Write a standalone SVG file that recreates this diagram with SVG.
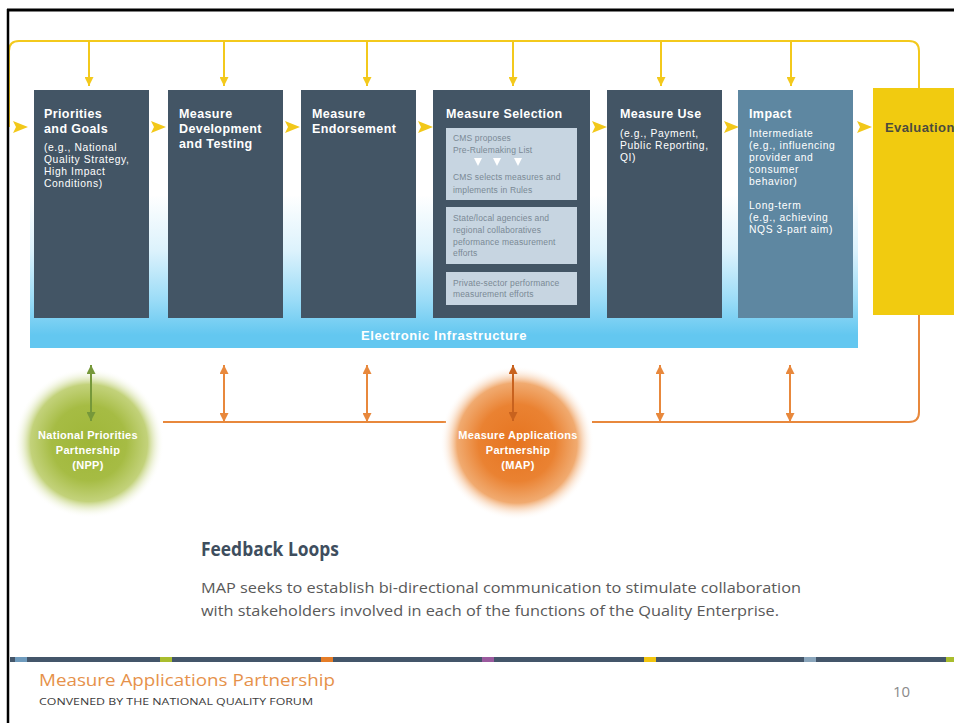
<svg xmlns="http://www.w3.org/2000/svg" width="954" height="723" viewBox="0 0 954 723">
<style>
.box{fill:#435565}
.impact{fill:#5e87a1}
.inner{fill:#c7d5e1}
.ttl{font-family:"Liberation Sans",Arial,sans-serif;font-weight:700;font-size:12.5px;letter-spacing:0.4px;fill:#ffffff}
.sub{font-family:"Liberation Sans",Arial,sans-serif;font-weight:400;font-size:10.3px;letter-spacing:0.6px;fill:#ffffff}
.itx{font-family:"Liberation Sans",Arial,sans-serif;font-size:8.5px;letter-spacing:0.15px;fill:#7a8995}
.chev{fill:#f2c81a}
.yl{stroke:#f3c91c;stroke-width:2;fill:none}
.ol{stroke:#e8883c;stroke-width:2;fill:none}
.ctx{font-family:"Liberation Sans",Arial,sans-serif;font-weight:700;font-size:11px;letter-spacing:0.3px;fill:#ffffff;text-anchor:middle}
</style>
<defs>
<marker id="ya" markerUnits="userSpaceOnUse" viewBox="0 0 10 10" markerWidth="10" markerHeight="9" refX="10" refY="5" orient="auto"><path d="M0,0 L10,5 L0,10 z" fill="#f3c91c"/></marker>
<marker id="oa" markerUnits="userSpaceOnUse" viewBox="0 0 10 10" markerWidth="10" markerHeight="9" refX="10" refY="5" orient="auto-start-reverse"><path d="M0,0 L10,5 L0,10 z" fill="#e8883c"/></marker>
<marker id="oad" markerUnits="userSpaceOnUse" viewBox="0 0 10 10" markerWidth="10" markerHeight="9" refX="10" refY="5" orient="auto-start-reverse"><path d="M0,0 L10,5 L0,10 z" fill="#c8621e"/></marker>
<marker id="ga" markerUnits="userSpaceOnUse" viewBox="0 0 10 10" markerWidth="10" markerHeight="9" refX="10" refY="5" orient="auto-start-reverse"><path d="M0,0 L10,5 L0,10 z" fill="#76983a"/></marker>
<linearGradient id="band" gradientUnits="userSpaceOnUse" x1="0" y1="195" x2="0" y2="335">
<stop offset="0" stop-color="#ffffff"/>
<stop offset="0.4" stop-color="#dcf2fc"/>
<stop offset="0.75" stop-color="#9bdcf7"/>
<stop offset="1" stop-color="#63c7f0"/>
</linearGradient>
<radialGradient id="gNPP" cx="0.5" cy="0.5" r="0.5">
<stop offset="0" stop-color="#9fb638"/>
<stop offset="0.5" stop-color="#a6bc44"/>
<stop offset="0.78" stop-color="#bccd6c" stop-opacity="0.9"/>
<stop offset="1" stop-color="#ffffff" stop-opacity="0"/>
</radialGradient>
<radialGradient id="gMAP" cx="0.5" cy="0.5" r="0.5">
<stop offset="0" stop-color="#e6741f"/>
<stop offset="0.5" stop-color="#ea8232"/>
<stop offset="0.78" stop-color="#efa160" stop-opacity="0.9"/>
<stop offset="1" stop-color="#ffffff" stop-opacity="0"/>
</radialGradient>
</defs>
<rect x="0" y="0" width="954" height="723" fill="#ffffff"/>

<g id="electronic-infrastructure">
<rect x="30" y="90" width="828" height="258" fill="url(#band)"/>
<text x="444" y="340" text-anchor="middle" font-family="Liberation Sans, Arial, sans-serif" font-weight="700" font-size="13" letter-spacing="0.6" fill="#ffffff">Electronic Infrastructure</text>
</g>

<g id="connectors">
<path class="yl" d="M919,88 V51 Q919,41 909,41 H19 Q9,41 9,51 V127"/>
<line class="yl" x1="89" y1="41" x2="89" y2="86" marker-end="url(#ya)"/>
<line class="yl" x1="224" y1="41" x2="224" y2="86" marker-end="url(#ya)"/>
<line class="yl" x1="367" y1="41" x2="367" y2="86" marker-end="url(#ya)"/>
<line class="yl" x1="513" y1="41" x2="513" y2="86" marker-end="url(#ya)"/>
<line class="yl" x1="661" y1="41" x2="661" y2="86" marker-end="url(#ya)"/>
<line class="yl" x1="791" y1="41" x2="791" y2="86" marker-end="url(#ya)"/>
<polygon class="chev" points="13,121 28,127 13,133 16,127"/>
<polygon class="chev" points="151,121 166,127 151,133 154,127"/>
<polygon class="chev" points="285,121 300,127 285,133 288,127"/>
<polygon class="chev" points="418,121 433,127 418,133 421,127"/>
<polygon class="chev" points="592,121 607,127 592,133 595,127"/>
<polygon class="chev" points="724,121 739,127 724,133 727,127"/>
<polygon class="chev" points="857,121 872,127 857,133 860,127"/>
<line class="ol" x1="163" y1="422" x2="446" y2="422"/>
<path class="ol" d="M592,422 H909 Q919,422 919,412 V315"/>
<line class="ol" x1="224" y1="365" x2="224" y2="422" marker-start="url(#oa)" marker-end="url(#oa)"/>
<line class="ol" x1="367" y1="365" x2="367" y2="422" marker-start="url(#oa)" marker-end="url(#oa)"/>
<line class="ol" x1="660" y1="365" x2="660" y2="422" marker-start="url(#oa)" marker-end="url(#oa)"/>
<line class="ol" x1="790" y1="365" x2="790" y2="422" marker-start="url(#oa)" marker-end="url(#oa)"/>
</g>

<g id="priorities">
<rect class="box" x="34" y="90" width="115" height="228"/>
<text class="ttl" x="44" y="118">Priorities</text>
<text class="ttl" x="44" y="133">and Goals</text>
<text class="sub" x="44" y="151">(e.g., National</text>
<text class="sub" x="44" y="163">Quality Strategy,</text>
<text class="sub" x="44" y="175">High Impact</text>
<text class="sub" x="44" y="187">Conditions)</text>
</g>

<g id="development">
<rect class="box" x="168" y="90" width="115" height="228"/>
<text class="ttl" x="179" y="118">Measure</text>
<text class="ttl" x="179" y="133">Development</text>
<text class="ttl" x="179" y="148">and Testing</text>
</g>

<g id="endorsement">
<rect class="box" x="301" y="90" width="115" height="228"/>
<text class="ttl" x="312" y="118">Measure</text>
<text class="ttl" x="312" y="133">Endorsement</text>
</g>

<g id="selection">
<rect class="box" x="433" y="90" width="157" height="228"/>
<text class="ttl" x="446" y="118">Measure Selection</text>
<rect class="inner" x="446" y="128" width="131" height="72"/>
<text class="itx" x="453" y="141">CMS proposes</text>
<text class="itx" x="453" y="153">Pre-Rulemaking List</text>
<polygon points="474,158 482,158 478,166" fill="#ffffff"/>
<polygon points="493,158 501,158 497,166" fill="#ffffff"/>
<polygon points="514,158 522,158 518,166" fill="#ffffff"/>
<text class="itx" x="453" y="180">CMS selects measures and</text>
<text class="itx" x="453" y="193">implements in Rules</text>
<rect class="inner" x="446" y="207" width="131" height="57"/>
<text class="itx" x="453" y="221">State/local agencies and</text>
<text class="itx" x="453" y="233">regional collaboratives</text>
<text class="itx" x="453" y="245">peformance measurement</text>
<text class="itx" x="453" y="256">efforts</text>
<rect class="inner" x="446" y="272" width="131" height="33"/>
<text class="itx" x="453" y="286">Private-sector performance</text>
<text class="itx" x="453" y="297">measurement efforts</text>
</g>

<g id="use">
<rect class="box" x="607" y="90" width="115" height="228"/>
<text class="ttl" x="620" y="118">Measure Use</text>
<text class="sub" x="620" y="137">(e.g., Payment,</text>
<text class="sub" x="620" y="149">Public Reporting,</text>
<text class="sub" x="620" y="161">QI)</text>
</g>

<g id="impact">
<rect class="impact" x="738" y="90" width="115" height="228"/>
<text class="ttl" x="749" y="118">Impact</text>
<text class="sub" x="749" y="137">Intermediate</text>
<text class="sub" x="749" y="149">(e.g., influencing</text>
<text class="sub" x="749" y="161">provider and</text>
<text class="sub" x="749" y="173">consumer</text>
<text class="sub" x="749" y="185">behavior)</text>
<text class="sub" x="749" y="209">Long-term</text>
<text class="sub" x="749" y="221">(e.g., achieving</text>
<text class="sub" x="749" y="233">NQS 3-part aim)</text>
</g>

<g id="evaluation">
<rect x="873" y="88" width="81" height="227" fill="#f1cb10"/>
<text x="885" y="132" font-family="Liberation Sans, Arial, sans-serif" font-weight="700" font-size="13" letter-spacing="0.4" fill="#4b4b3e">Evaluation</text>
</g>

<g id="npp">
<circle cx="89" cy="443" r="75" fill="url(#gNPP)"/>
<line x1="91" y1="365" x2="91" y2="421" stroke="#76983a" stroke-width="2" marker-start="url(#ga)" marker-end="url(#ga)"/>
<text class="ctx" x="88" y="439">National Priorities</text>
<text class="ctx" x="88" y="454">Partnership</text>
<text class="ctx" x="88" y="469">(NPP)</text>
</g>

<g id="map">
<circle cx="517" cy="443" r="77" fill="url(#gMAP)"/>
<line x1="513" y1="365" x2="513" y2="421" stroke="#c8621e" stroke-width="2" marker-start="url(#oad)" marker-end="url(#oad)"/>
<text class="ctx" x="518" y="439">Measure Applications</text>
<text class="ctx" x="518" y="454">Partnership</text>
<text class="ctx" x="518" y="469">(MAP)</text>
</g>

<g id="feedback-text">
<text x="201" y="556" font-family="Open Sans, Liberation Sans, sans-serif" font-weight="700" font-size="19" fill="#3e4e5e" textLength="138" lengthAdjust="spacingAndGlyphs">Feedback Loops</text>
<text x="201" y="593" font-family="Open Sans, Liberation Sans, sans-serif" font-size="14" fill="#595959" textLength="600" lengthAdjust="spacingAndGlyphs">MAP seeks to establish bi-directional communication to stimulate collaboration</text>
<text x="201" y="616" font-family="Open Sans, Liberation Sans, sans-serif" font-size="14" fill="#595959" textLength="578" lengthAdjust="spacingAndGlyphs">with stakeholders involved in each of the functions of the Quality Enterprise.</text>
</g>

<g id="footer">
<rect x="10" y="657" width="944" height="5" fill="#44566a"/>
<rect x="15" y="657" width="12" height="5" fill="#6f9bbd"/>
<rect x="160" y="657" width="12" height="5" fill="#a9bd2e"/>
<rect x="321" y="657" width="12" height="5" fill="#e57d28"/>
<rect x="482" y="657" width="12" height="5" fill="#9a5a9e"/>
<rect x="644" y="657" width="12" height="5" fill="#f2c50f"/>
<rect x="804" y="657" width="12" height="5" fill="#8aa5bb"/>
<rect x="946" y="657" width="8" height="5" fill="#a9bd2e"/>
<text x="39" y="686" font-family="Open Sans, Liberation Sans, sans-serif" font-size="17" fill="#e6914a" textLength="296" lengthAdjust="spacingAndGlyphs">Measure Applications Partnership</text>
<text x="39" y="705" font-family="Open Sans, Liberation Sans, sans-serif" font-size="9" fill="#3c3c3c" textLength="274" lengthAdjust="spacingAndGlyphs">CONVENED BY THE NATIONAL QUALITY FORUM</text>
<text x="893" y="697" font-family="Open Sans, Liberation Sans, sans-serif" font-size="15" fill="#8a8a8a">10</text>
</g>

<g id="frame">
<line x1="8" y1="9" x2="8" y2="723" stroke="#000000" stroke-width="2.5"/>
<line x1="7" y1="10" x2="954" y2="10" stroke="#000000" stroke-width="3"/>
</g>
</svg>
